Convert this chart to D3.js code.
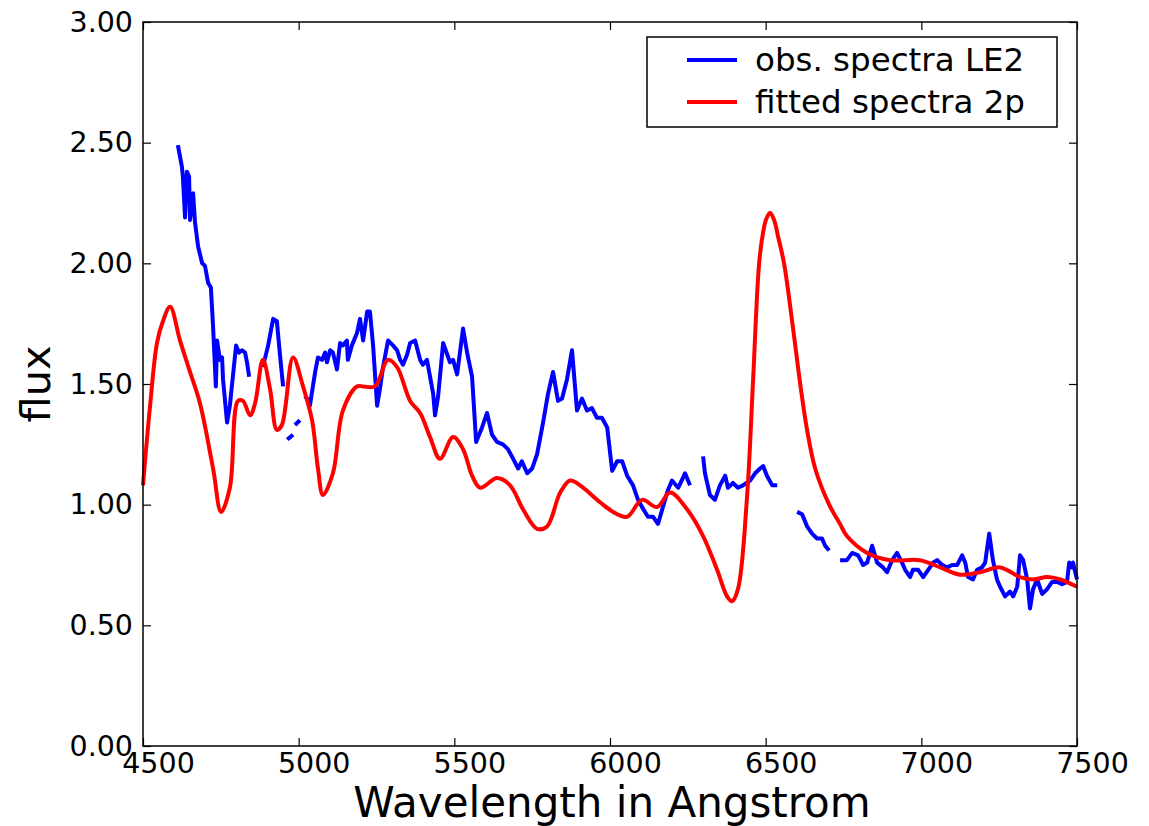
<!DOCTYPE html>
<html>
<head>
<meta charset="utf-8">
<script src="https://cdn.jsdelivr.net/npm/d3@7"></script>
<style>
  body { margin: 0; background: #fff; }
  svg { display: block; font-family: "DejaVu Sans", sans-serif; }
</style>
</head>
<body>
<div id="chart"></div>
<script>
// observed spectrum (null = gap in the data)
const obsWavelength = [
  4612, 4625, 4628, 4635, 4641, 4648, 4651, 4661, 4667, 4677, 4690, 4699, 4709, 4718, 4725, 4734, 4738, 4747, 4754, 4757, 4770, 4779, 4799, 4808, 4818, 4828, 4834, 4841, null,
  4885, 4902, 4918, 4930, 4940, 4950, null,
  4963, 4973, 4982, null,
  4988, 5004, null,
  5020, 5027, 5036, 5053, 5062, 5075, 5085, 5091, 5101, 5110, 5123, 5133, 5142, 5155, 5158, 5171, 5187, 5197, 5207, 5220, 5229, 5239, 5252, 5261, 5271, 5287, 5303, 5316,
  5326, 5335, 5348, 5358, 5374, 5390, 5399, 5412, 5432, 5438, 5448, 5464, 5486, 5496, 5509, 5528, 5541, 5557, 5570, 5589, 5605, 5621, 5637, 5656, 5672, 5689, 5705,
  5717, 5734, 5750, 5766, 5785, 5801, 5817, 5833, 5846, 5862, 5878, 5894, 5910, 5926, 5942, 5958, 5974, 5991, 6007, 6023, 6039, 6055, 6074, 6090, 6103, 6122, 6138,
  6154, 6170, 6186, 6199, 6219, 6241, 6257, null,
  6299, 6305, 6321, 6337, 6353, 6370, 6379, 6395, 6411, 6427, 6450, 6466, 6482, 6492, 6504, 6521, 6537, null,
  6601, 6617, 6633, 6649, 6665, 6681, 6691, 6704, null,
  6739, 6761, 6778, 6797, 6813, 6826, 6842, 6858, 6877, 6890, 6906, 6922, 6938, 6948, 6964, 6973, 6990, 7006, 7022, 7038, 7051, 7067, 7083, 7099, 7115, 7131, 7141,
  7150, 7166, 7179, 7195, 7205, 7218, 7230, 7243, 7253, 7269, 7285, 7295, 7308, 7317, 7327, 7340, 7349, 7359, 7372, 7388, 7404, 7420, 7436, 7452, 7468, 7475, 7484, 7487, 7500
];
const obsFlux = [
  2.49, 2.40, 2.36, 2.19, 2.38, 2.36, 2.18, 2.29, 2.17, 2.07, 2.00, 1.99, 1.92, 1.90, 1.74, 1.49, 1.68, 1.60, 1.61, 1.52, 1.34, 1.41, 1.66, 1.63, 1.64, 1.63, 1.59, 1.53, null,
  1.57, 1.66, 1.77, 1.76, 1.62, 1.49, null,
  1.27, 1.28, 1.29, null,
  1.33, 1.35, null,
  1.45, 1.44, 1.41, 1.55, 1.61, 1.60, 1.63, 1.59, 1.64, 1.63, 1.56, 1.67, 1.66, 1.68, 1.60, 1.66, 1.71, 1.77, 1.68, 1.80, 1.80, 1.66, 1.41, 1.48, 1.57, 1.68, 1.66, 1.64,
  1.60, 1.58, 1.62, 1.67, 1.68, 1.60, 1.58, 1.60, 1.46, 1.37, 1.45, 1.67, 1.59, 1.60, 1.54, 1.73, 1.63, 1.53, 1.26, 1.32, 1.38, 1.29, 1.26, 1.25, 1.23, 1.19, 1.15,
  1.18, 1.13, 1.15, 1.21, 1.34, 1.46, 1.55, 1.43, 1.44, 1.52, 1.64, 1.39, 1.44, 1.39, 1.40, 1.36, 1.36, 1.32, 1.14, 1.18, 1.18, 1.12, 1.08, 1.02, 0.99, 0.95, 0.95,
  0.92, 0.99, 1.06, 1.10, 1.07, 1.13, 1.08, null,
  1.20, 1.13, 1.04, 1.02, 1.08, 1.12, 1.07, 1.09, 1.07, 1.08, 1.10, 1.13, 1.15, 1.16, 1.12, 1.08, 1.08, null,
  0.97, 0.96, 0.91, 0.88, 0.86, 0.86, 0.83, 0.81, null,
  0.77, 0.77, 0.80, 0.79, 0.75, 0.76, 0.83, 0.76, 0.74, 0.72, 0.77, 0.80, 0.76, 0.73, 0.70, 0.73, 0.73, 0.70, 0.73, 0.76, 0.77, 0.75, 0.74, 0.75, 0.75, 0.79, 0.76,
  0.70, 0.69, 0.73, 0.74, 0.76, 0.88, 0.77, 0.69, 0.66, 0.62, 0.64, 0.62, 0.66, 0.79, 0.77, 0.69, 0.57, 0.65, 0.69, 0.63, 0.65, 0.68, 0.68, 0.67, 0.68, 0.76, 0.74, 0.76, 0.69
];

// fitted spectrum
const fitWavelength = [
  4500, 4522, 4545, 4564, 4587, 4619, 4651, 4683, 4725, 4751, 4779, 4805, 4821, 4844, 4860, 4885, 4908, 4930, 4946, 4982, 5014, 5043, 5062, 5078, 5110, 5142,
  5187, 5207, 5245, 5287, 5316, 5358, 5390, 5422, 5454, 5496, 5528, 5557, 5583, 5637, 5679, 5721, 5766, 5798, 5840, 5872, 5904, 5968, 6010, 6055, 6103, 6151,
  6193, 6248, 6299, 6344, 6376, 6392, 6411, 6440, 6459, 6479, 6492, 6501, 6514, 6527, 6540, 6559, 6588, 6611, 6633, 6659, 6704, 6739, 6761, 6826, 6900, 6996,
  7060, 7124, 7189, 7253, 7317, 7359, 7404, 7446, 7500
];
const fitFlux = [
  1.08, 1.40, 1.67, 1.76, 1.82, 1.68, 1.55, 1.42, 1.15, 0.97, 1.07, 1.43, 1.43, 1.37, 1.42, 1.60, 1.48, 1.31, 1.33, 1.61, 1.49, 1.35, 1.15, 1.04, 1.13, 1.39,
  1.49, 1.49, 1.49, 1.60, 1.57, 1.43, 1.38, 1.28, 1.19, 1.28, 1.23, 1.12, 1.07, 1.11, 1.08, 0.98, 0.90, 0.91, 1.05, 1.10, 1.08, 1.01, 0.97, 0.95, 1.02, 0.99,
  1.05, 0.98, 0.87, 0.73, 0.62, 0.60, 0.65, 1.03, 1.50, 2.00, 2.13, 2.18, 2.21, 2.18, 2.11, 2.00, 1.73, 1.50, 1.31, 1.15, 1.00, 0.92, 0.87, 0.80, 0.77, 0.77,
  0.74, 0.71, 0.72, 0.74, 0.70, 0.69, 0.70, 0.69, 0.66
];

const xTicks = [4500, 5000, 5500, 6000, 6500, 7000, 7500];
const yTicks = [0, 0.5, 1.0, 1.5, 2.0, 2.5, 3.0];
const seriesNames = ["obs. spectra LE2", "fitted spectra 2p"];
const seriesColors = ["#0000ff", "#ff0000"];

const width = 1149, height = 826;
const margin = { top: 22, right: 72, bottom: 80, left: 143 };
const plotW = width - margin.left - margin.right;
const plotH = height - margin.top - margin.bottom;

const svg = d3.select("#chart").append("svg")
  .attr("width", width)
  .attr("height", height)
  .style("background", "#fff");

const g = svg.append("g")
  .attr("transform", `translate(${margin.left},${margin.top})`);

const x = d3.scaleLinear().domain([4500, 7500]).range([0, plotW]);
const y = d3.scaleLinear().domain([0, 3]).range([plotH, 0]);

// axes, ticks pointing inward on all four sides
const styleAxis = sel => {
  sel.select(".domain").remove();
  sel.selectAll(".tick line").attr("stroke", "#000").attr("stroke-width", 1.2);
  sel.selectAll("text")
    .attr("fill", "#000")
    .style("font-size", "28.5px")
    .style("font-family", "DejaVu Sans, sans-serif");
};

g.append("g")
  .attr("transform", `translate(0,${plotH})`)
  .call(d3.axisBottom(x).tickValues(xTicks).tickFormat(d3.format("d"))
    .tickSizeInner(-8).tickSizeOuter(0).tickPadding(7))
  .call(styleAxis)
  .call(a => a.selectAll("text").attr("dx", 15));

g.append("g")
  .call(d3.axisTop(x).tickValues(xTicks).tickFormat("")
    .tickSizeInner(-8).tickSizeOuter(0))
  .call(styleAxis);

g.append("g")
  .call(d3.axisLeft(y).tickValues(yTicks).tickFormat(d3.format(".2f"))
    .tickSizeInner(-8).tickSizeOuter(0).tickPadding(10))
  .call(styleAxis);

g.append("g")
  .attr("transform", `translate(${plotW},0)`)
  .call(d3.axisRight(y).tickValues(yTicks).tickFormat("")
    .tickSizeInner(-8).tickSizeOuter(0))
  .call(styleAxis);

// data lines
const obs = obsWavelength.map((w, i) => ({ w, f: obsFlux[i] }));
const fit = fitWavelength.map((w, i) => ({ w, f: fitFlux[i] }));

const obsLine = d3.line()
  .defined(d => d.w != null && d.f != null)
  .x(d => x(d.w))
  .y(d => y(d.f));

const fitLine = d3.line()
  .x(d => x(d.w))
  .y(d => y(d.f))
  .curve(d3.curveCatmullRom.alpha(0.5));

g.append("path")
  .datum(obs)
  .attr("fill", "none")
  .attr("stroke", seriesColors[0])
  .attr("stroke-width", 4)
  .attr("stroke-linejoin", "round")
  .attr("d", obsLine);

g.append("path")
  .datum(fit)
  .attr("fill", "none")
  .attr("stroke", seriesColors[1])
  .attr("stroke-width", 4)
  .attr("stroke-linejoin", "round")
  .attr("d", fitLine);

// frame
g.append("rect")
  .attr("width", plotW)
  .attr("height", plotH)
  .attr("fill", "none")
  .attr("stroke", "#000")
  .attr("stroke-width", 1.5);

// axis titles
svg.append("text")
  .attr("x", 612)
  .attr("y", 817)
  .attr("text-anchor", "middle")
  .style("font-size", "42px")
  .text("Wavelength in Angstrom");

svg.append("text")
  .attr("transform", `translate(50,${margin.top + plotH / 2}) rotate(-90)`)
  .attr("text-anchor", "middle")
  .style("font-size", "41.5px")
  .text("flux");

// legend
const legend = svg.append("g").attr("transform", "translate(647,37)");
legend.append("rect")
  .attr("width", 410)
  .attr("height", 90)
  .attr("fill", "#fff")
  .attr("stroke", "#000")
  .attr("stroke-width", 1.5);

seriesNames.forEach((name, i) => {
  const row = legend.append("g").attr("transform", `translate(0,${23 + i * 42})`);
  row.append("line")
    .attr("x1", 40).attr("x2", 90)
    .attr("stroke", seriesColors[i])
    .attr("stroke-width", 4);
  row.append("text")
    .attr("x", 108)
    .attr("dy", "0.33em")
    .style("font-size", "32.5px")
    .text(name);
});
</script>
</body>
</html>
